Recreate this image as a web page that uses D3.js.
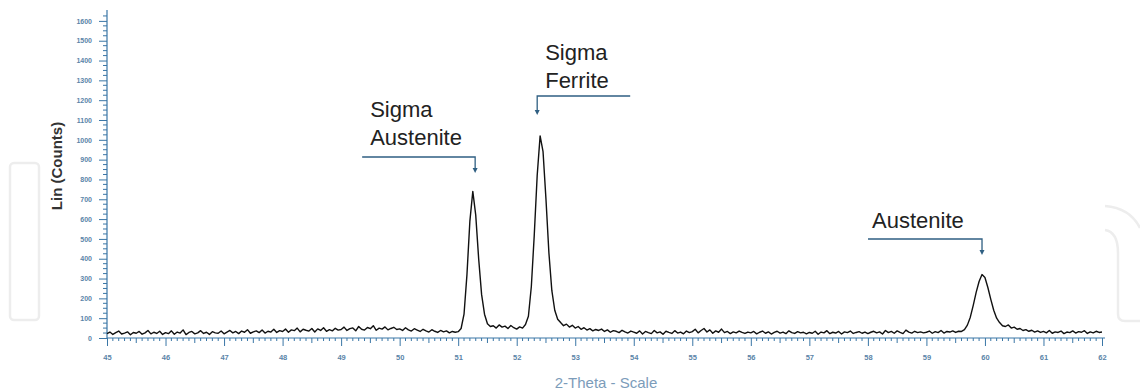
<!DOCTYPE html>
<html>
<head>
<meta charset="utf-8">
<script src="https://cdn.jsdelivr.net/npm/d3@7"></script>
<style>
  html, body { margin: 0; padding: 0; background: #fff; }
  svg { display: block; font-family: "Liberation Sans", Arial, sans-serif; }
</style>
</head>
<body>
<div id="chart"></div>
<script>
// 2-theta scan, step 0.05 deg starting at 45.00
const thetaStart = 45
const thetaStep = 0.05

// counts, one row per degree (20 samples each)
const counts45 = [22,30,18,27,35,20,25,31,16,28,24,33,19,26,38,21,29,23,34,18]
const counts46 = [27,22,36,19,30,25,41,17,28,33,21,26,37,23,29,18,32,26,24,35]
const counts47 = [21,30,38,26,33,22,35,29,42,24,31,36,27,40,25,34,30,44,28,37]
const counts48 = [33,45,29,41,37,50,31,44,39,35,48,30,46,38,52,34,42,36,49,40]
const counts49 = [43,55,38,47,51,36,58,44,40,53,47,62,39,50,45,56,41,48,54,43]
const counts50 = [46,38,52,41,35,47,40,33,44,36,30,42,34,28,38,31,36,26,33,29]
const counts51 = [32,48,120,320,590,740,620,400,220,120,72,58,62,50,66,55,60,48,63,52]
const counts52 = [45,56,50,68,110,260,520,820,1020,940,700,430,240,140,95,78,62,70,55,64]
const counts53 = [50,58,44,52,40,47,36,43,38,45,33,41,29,37,34,27,39,31,25,35]
const counts54 = [30,24,36,20,33,27,22,38,26,31,19,34,28,23,37,25,30,21,35,27]
const counts55 = [32,44,26,38,48,30,41,24,36,29,45,27,33,22,31,26,35,28,23,30]
const counts56 = [26,33,21,29,35,24,31,20,28,34,25,30,22,36,27,23,32,26,29,21]
const counts57 = [28,24,34,19,30,26,37,22,29,25,33,20,31,27,35,23,28,32,24,30]
const counts58 = [22,29,34,26,31,20,38,27,33,24,36,28,22,40,30,25,34,27,31,26]
const counts59 = [29,35,24,32,27,38,25,33,30,36,28,34,33,42,65,105,165,230,285,320]
const counts60 = [305,255,195,140,100,78,62,58,66,50,55,44,48,38,42,34,39,30,36,28]
const counts61 = [33,26,38,24,31,28,35,22,30,27,36,25,32,29,37,23,31,26,34,28]
const counts62 = [30]

const xTicks = d3.range(45, 63)          // 45 ... 62
const yTicks = d3.range(0, 1700, 100)    // 0 ... 1600

// peak annotations: label lines and the 2-theta the arrow points at
const peakLabels = [
    {lines: ['Sigma', 'Austenite'], theta: 51.29},
    {lines: ['Sigma', 'Ferrite'], theta: 52.35},
    {lines: ['Austenite'], theta: 59.95}
]

const width = 1140
const height = 392

const counts = [].concat(counts45, counts46, counts47, counts48, counts49, counts50, counts51,
    counts52, counts53, counts54, counts55, counts56, counts57, counts58, counts59, counts60,
    counts61, counts62)
const data = counts.map((c, i) => [thetaStart + i * thetaStep, c])

const axisColor = '#3a76a6'
const labelColor = '#5a84a8'

const svg = d3.select('#chart').append('svg')
    .attr('width', width)
    .attr('height', height)
    .attr('viewBox', [0, 0, width, height])

//faint watermark outlines
const wm = svg.append('g')
    .attr('fill', 'none')
    .attr('stroke', '#ededed')
    .attr('stroke-width', 2.5)
wm.append('rect')
    .attr('x', 10).attr('y', 163)
    .attr('width', 29).attr('height', 157)
    .attr('rx', 4)
wm.append('path').attr('d', 'M1105,230 Q1118,232 1118,253 L1118,314 Q1118,321 1125,321 L1140,321')
wm.append('path').attr('d', 'M1105,206 Q1130,208 1140,228')

const x = d3.scaleLinear()
    .domain([45, 62])
    .range([107, 1102])

const y = d3.scaleLinear()
    .domain([0, 1655])
    .range([338, 10])

//x axis
const xAxis = svg.append('g')
    .attr('transform', `translate(0, ${y(0)})`)
    .call(d3.axisBottom(x).tickValues(xTicks).tickSize(8).tickPadding(9).tickFormat(d3.format('d')))
xAxis.select('.domain').remove()
xAxis.selectAll('.tick line').attr('stroke', axisColor)
xAxis.selectAll('.tick text')
    .attr('fill', labelColor)
    .style('font-size', '7.5px')
    .style('font-weight', 'bold')
xAxis.append('g')
    .selectAll('line')
    .data(d3.range(451, 621).map(d => d / 10).filter(d => !Number.isInteger(d)))
    .join('line')
    .attr('x1', d => x(d)).attr('x2', d => x(d))
    .attr('y1', 0)
    .attr('y2', d => Math.abs(d * 2 - Math.round(d * 2)) < 1e-6 ? 5 : 3)
    .attr('stroke', axisColor)
xAxis.append('line')
    .attr('x1', x(45)).attr('x2', x(62) + 3)
    .attr('stroke', axisColor)

//y axis
const yAxis = svg.append('g')
    .attr('transform', `translate(${x(45)}, 0)`)
    .call(d3.axisLeft(y).tickValues(yTicks).tickSize(8).tickPadding(7).tickFormat(d3.format('d')))
yAxis.select('.domain').remove()
yAxis.selectAll('.tick line').attr('stroke', axisColor)
yAxis.selectAll('.tick text')
    .attr('fill', labelColor)
    .style('font-size', '7px')
    .style('font-weight', 'bold')
yAxis.append('g')
    .selectAll('line')
    .data(d3.range(25, 1650, 25).filter(d => d % 100 !== 0))
    .join('line')
    .attr('y1', d => y(d)).attr('y2', d => y(d))
    .attr('x1', -4).attr('x2', 0)
    .attr('stroke', axisColor)
yAxis.append('line')
    .attr('y1', y(0)).attr('y2', y(1655))
    .attr('stroke', axisColor)
    .attr('stroke-width', 1.2)

//axis titles
svg.append('text')
    .attr('transform', `translate(62, 166) rotate(-90)`)
    .attr('text-anchor', 'middle')
    .attr('fill', '#333')
    .style('font-size', '15px')
    .style('font-weight', 'bold')
    .text('Lin (Counts)')

svg.append('text')
    .attr('x', 606)
    .attr('y', 388)
    .attr('text-anchor', 'middle')
    .attr('fill', '#7c9cba')
    .style('font-size', '15px')
    .text('2-Theta - Scale')

//scan line
svg.append('path')
    .datum(data)
    .attr('fill', 'none')
    .attr('stroke', '#111')
    .attr('stroke-width', 1.4)
    .attr('stroke-linejoin', 'round')
    .attr('d', d3.line().x(d => x(d[0])).y(d => y(d[1])))

//peak labels with leader lines
const leaderColor = '#2f5f82'
const layouts = [
    {textX: -105, base: 117, lineY: 157, tipY: 173, from: -113},
    {textX: 8, base: 60, lineY: 96, tipY: 115, from: 93},
    {textX: -110, base: 228, lineY: 239, tipY: 255, from: -114}
]
peakLabels.forEach((p, i) => {
    const l = layouts[i]
    const px = x(p.theta)
    const g = svg.append('g')
    g.selectAll('text')
        .data(p.lines)
        .join('text')
        .attr('x', px + l.textX)
        .attr('y', (_, k) => l.base + k * 28)
        .attr('fill', '#222')
        .style('font-size', '22px')
        .text(d => d)
    g.append('path')
        .attr('d', `M${px + l.from},${l.lineY} H${px} V${l.tipY - 4}`)
        .attr('fill', 'none')
        .attr('stroke', leaderColor)
        .attr('stroke-width', 1.3)
    g.append('path')
        .attr('d', `M${px - 2.5},${l.tipY - 5} L${px + 2.5},${l.tipY - 5} L${px},${l.tipY} Z`)
        .attr('fill', leaderColor)
})
</script>
</body>
</html>
